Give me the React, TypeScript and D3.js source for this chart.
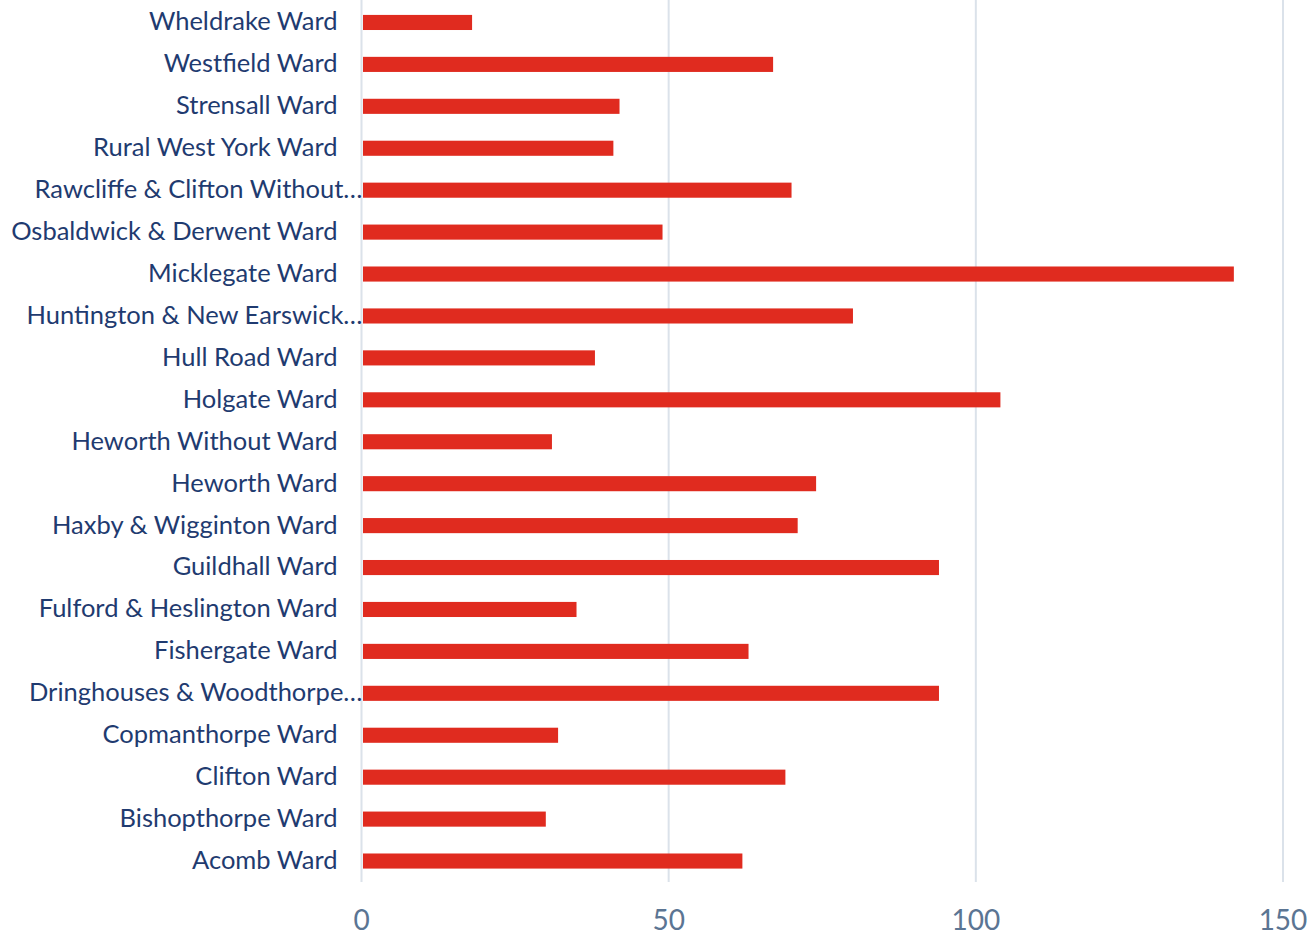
import React from "react";
import * as d3 from "d3";

const categories = [
  "Wheldrake Ward",
  "Westfield Ward",
  "Strensall Ward",
  "Rural West York Ward",
  "Rawcliffe & Clifton Without…",
  "Osbaldwick & Derwent Ward",
  "Micklegate Ward",
  "Huntington & New Earswick…",
  "Hull Road Ward",
  "Holgate Ward",
  "Heworth Without Ward",
  "Heworth Ward",
  "Haxby & Wigginton Ward",
  "Guildhall Ward",
  "Fulford & Heslington Ward",
  "Fishergate Ward",
  "Dringhouses & Woodthorpe…",
  "Copmanthorpe Ward",
  "Clifton Ward",
  "Bishopthorpe Ward",
  "Acomb Ward",
];
const values = [18, 67, 42, 41, 70, 49, 142, 80, 38, 104, 31, 74, 71, 94, 35, 63, 94, 32, 69, 30, 62];
const xTicks = [0, 50, 100, 150];

const W = 1313;
const H = 935;
const FONT = "Lato, 'Open Sans', sans-serif";

export default function App() {
  const x = d3.scaleLinear().domain([0, 150]).range([361.5, 1283]);
  const y = d3.scaleBand<string>().domain(categories).range([1.5, 882]).paddingInner(0.64).paddingOuter(0.32);
  return (
    <svg width={W} height={H} style={{ position: "absolute", left: 0, top: 0, background: "#fff" }}>
      {xTicks.map((t) => (
        <line key={"g" + t} x1={x(t)} x2={x(t)} y1={0} y2={882} stroke="#dbe2ea" strokeWidth={2} />
      ))}
      {categories.map((c, i) => (
        <rect
          key={c}
          x={x(0) + 1.5}
          y={y(c)!}
          width={x(values[i]) - x(0) - 1.5}
          height={y.bandwidth()}
          fill="#e02b1f"
        />
      ))}
      {categories.map((c) => {
        const trunc = c.endsWith("…");
        return (
          <text
            key={"l" + c}
            x={trunc ? x(0) + 1 : x(0) - 24}
            y={y(c)! + y.bandwidth() / 2 - 1}
            dy="0.35em"
            textAnchor="end"
            fontFamily={FONT}
            fontSize={25.5}
            fill="#1f3b70"
          >
            {c}
          </text>
        );
      })}
      {xTicks.map((t) => (
        <text
          key={"t" + t}
          x={x(t)}
          y={920}
          dy="0.35em"
          textAnchor="middle"
          fontFamily={FONT}
          fontSize={28}
          fill="#5b7593"
        >
          {t}
        </text>
      ))}
    </svg>
  );
}
